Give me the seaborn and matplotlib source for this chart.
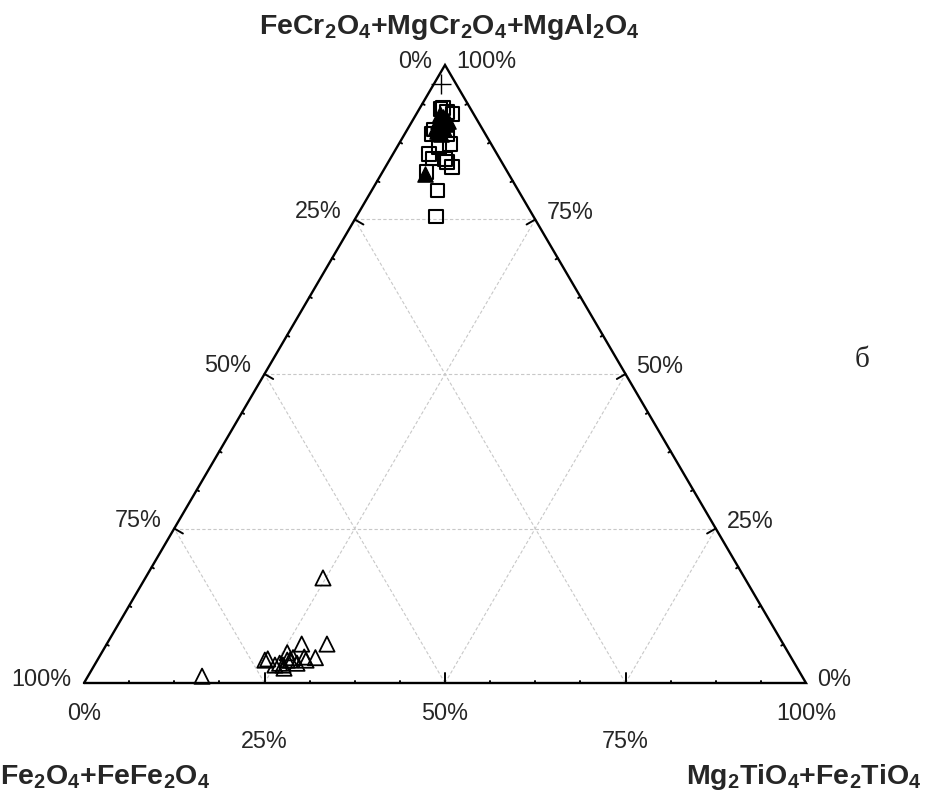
import numpy as np
import pandas as pd
import matplotlib
matplotlib.use("Agg")
import matplotlib.pyplot as plt
import seaborn as sns

# ternary data: T = FeCr2O4+MgCr2O4+MgAl2O4 (top), R = Mg2TiO4+Fe2TiO4 (right)
sq_T = [0.930, 0.921, 0.929, 0.924, 0.888, 0.896, 0.888, 0.867, 0.872, 0.856,
        0.849, 0.848, 0.843, 0.835, 0.827, 0.797, 0.755]
sq_R = [0.032, 0.050, 0.029, 0.041, 0.038, 0.037, 0.059, 0.058, 0.071, 0.050,
        0.059, 0.076, 0.081, 0.092, 0.061, 0.091, 0.110]

tf_T = [0.921, 0.916, 0.912, 0.909, 0.904, 0.904, 0.900, 0.896, 0.893, 0.888,
        0.909, 0.900, 0.823]
tf_R = [0.033, 0.039, 0.044, 0.036, 0.044, 0.049, 0.043, 0.051, 0.042, 0.050,
        0.050, 0.038, 0.061]

to_T = [0.170, 0.011, 0.063, 0.063, 0.041, 0.037, 0.042, 0.049, 0.037, 0.039,
        0.032, 0.024, 0.037, 0.037, 0.041, 0.032, 0.029, 0.029]
to_R = [0.246, 0.158, 0.270, 0.305, 0.300, 0.289, 0.284, 0.257, 0.232, 0.235,
        0.255, 0.265, 0.263, 0.267, 0.269, 0.279, 0.250, 0.261]

plus_T = [0.969]
plus_R = [0.010]

grid_vals = [0.25, 0.5, 0.75]
tick_labels = ["0%", "25%", "50%", "75%", "100%"]

H = np.sqrt(3) / 2


def to_xy(T, R):
    T = np.asarray(T, float)
    R = np.asarray(R, float)
    return pd.DataFrame({"x": R + T / 2, "y": T * H})


sns.set_theme(style="white")
plt.rcParams["font.family"] = ["Liberation Sans", "DejaVu Sans"]
plt.rcParams["mathtext.fontset"] = "custom"
plt.rcParams["mathtext.rm"] = "Liberation Sans"
plt.rcParams["mathtext.bf"] = "Liberation Sans:bold"

fig = plt.figure(figsize=(9.3, 7.96), dpi=100)
ax = fig.add_axes([0, 0, 1, 1])
# pixel mapping: x 0->84px, 1->806px ; y 0->683px from top, H->65px
ppx = 722.0
ppy = 618.0 / H
ax.set_xlim(-84 / ppx, (930 - 84) / ppx)
ax.set_ylim(-113 / ppy, (796 - 113) / ppy)
ax.set_axis_off()

# grid
gkw = dict(color="#c8c8c8", lw=0.8, ls=(0, (3, 2)), zorder=1)
for v in grid_vals:
    ax.plot([v / 2, 1 - v / 2], [v * H, v * H], **gkw)
    ax.plot([v, v + (1 - v) / 2], [0, (1 - v) * H], **gkw)
    ax.plot([1 - v, (1 - v) / 2], [0, (1 - v) * H], **gkw)

# frame
ax.plot([0, 1, 0.5, 0], [0, 0, H, 0], color="black", lw=1.7, zorder=3,
        solid_joinstyle="miter")

# ticks
major = 10.0
minor = 2.5
for i in range(1, 16):
    v = i / 16
    ln = major if i % 4 == 0 else minor
    ax.plot([v, v], [0, ln / ppy], color="black", lw=1.4, zorder=3)
    px, py = 1 - v / 2, v * H
    ax.plot([px, px - 0.866 * ln / ppx], [py, py - 0.5 * ln / ppy],
            color="black", lw=1.4, zorder=3)
    t = 1 - v
    px, py = t / 2, t * H
    ax.plot([px, px + 0.866 * ln / ppx], [py, py - 0.5 * ln / ppy],
            color="black", lw=1.4, zorder=3)

# points
sns.scatterplot(data=to_xy(to_T, to_R), x="x", y="y", marker="^", s=120,
                facecolor="none", edgecolor="black", linewidth=1.3, ax=ax, zorder=4)
sns.scatterplot(data=to_xy(sq_T, sq_R), x="x", y="y", marker="s", s=95,
                facecolor="none", edgecolor="black", linewidth=1.5, ax=ax, zorder=4)
sns.scatterplot(data=to_xy(tf_T, tf_R), x="x", y="y", marker="^", s=120,
                color="black", edgecolor="black", linewidth=1.0, ax=ax, zorder=5)
sns.scatterplot(data=to_xy(plus_T, plus_R), x="x", y="y", marker="+", s=200,
                color="black", linewidth=1.0, ax=ax, zorder=5)
ax.set_axis_off()

fs = 16.8
levels = [0, 0.25, 0.5, 0.75, 1.0]
for v, lab in zip(levels, tick_labels):
    # left edge labels (bottom-left component)
    t = 1 - v
    dy = 3 if v in (0, 1.0) else 8
    ax.text(t / 2 - 13 / ppx, t * H + dy / ppy, lab, ha="right", va="center",
            fontsize=fs)
    # right edge labels (top component)
    dy = 3 if v in (0, 1.0) else 7
    ax.text(1 - v / 2 + 11 / ppx, v * H + dy / ppy, lab, ha="left", va="center",
            fontsize=fs)
    # bottom labels (right component)
    off = 30 if v in (0, 0.5, 1.0) else 59
    ax.text(v, -off / ppy, lab, ha="center", va="center", fontsize=fs)

fig.text(449 / 930, 1 - 27 / 796,
         r"$\mathbf{FeCr_2O_4{+}MgCr_2O_4{+}MgAl_2O_4}$",
         ha="center", va="center", fontsize=20.5)
fig.text(0 / 930, 1 - 777 / 796, r"$\mathbf{Fe_2O_4{+}FeFe_2O_4}$",
         ha="left", va="center", fontsize=20.5)
fig.text(922 / 930, 1 - 777 / 796, r"$\mathbf{Mg_2TiO_4{+}Fe_2TiO_4}$",
         ha="right", va="center", fontsize=20.5)
fig.text(862 / 930, 1 - 360 / 796, "б", ha="center", va="center",
         fontsize=21, family=["Liberation Serif", "DejaVu Serif"])

fig.savefig("out.png", dpi=100)
